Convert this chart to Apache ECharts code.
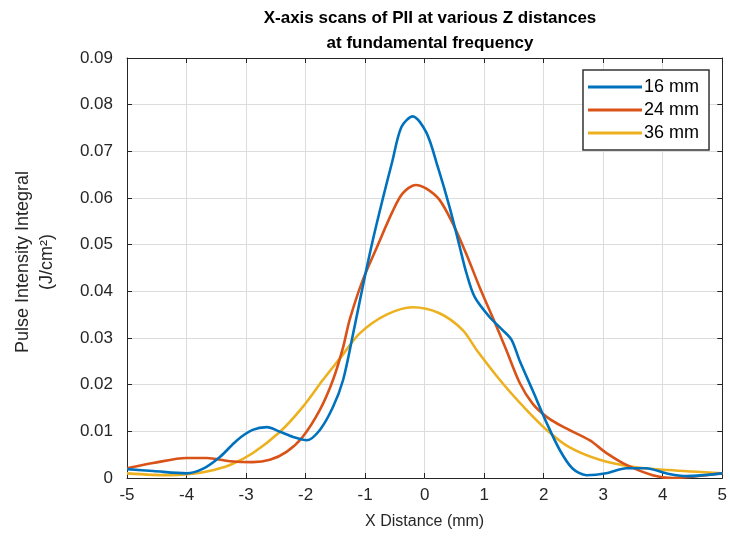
<!DOCTYPE html>
<html>
<head>
<meta charset="utf-8">
<script src="https://cdn.jsdelivr.net/npm/echarts@6/dist/echarts.min.js"></script>
<style>html,body{margin:0;padding:0;background:#fff}#c{width:730px;height:543px}</style>
</head>
<body>
<div id="c"></div>
<script>
var seriesNames = ['16 mm', '24 mm', '36 mm'];
var xTicks = [-5, -4, -3, -2, -1, 0, 1, 2, 3, 4, 5];
var yTicks = [0, 0.01, 0.02, 0.03, 0.04, 0.05, 0.06, 0.07, 0.08, 0.09];

var blueX = [-5, -4.56, -4.0, -3.72, -3.44, -3.15, -2.89, -2.65, -2.43, -2.21, -1.98, -1.76, -1.54, -1.37, -1.2, -1.04, -0.87, -0.7, -0.55, -0.39, -0.2, 0.03, 0.22, 0.42, 0.59, 0.7, 0.84, 1.09, 1.31, 1.46, 1.6, 1.81, 2.05, 2.27, 2.48, 2.72, 3.05, 3.39, 3.72, 4.06, 4.4, 5];
var blueY = [0.0019, 0.0015, 0.001, 0.002, 0.0045, 0.0081, 0.0103, 0.0109, 0.0099, 0.0088, 0.0081, 0.0103, 0.0152, 0.021, 0.031, 0.041, 0.051, 0.060, 0.0675, 0.0752, 0.0775, 0.074, 0.0667, 0.058, 0.0495, 0.044, 0.0388, 0.0345, 0.0317, 0.0296, 0.025, 0.0189, 0.0118, 0.006, 0.0021, 0.0006, 0.001, 0.0021, 0.0021, 0.001, 0.0004, 0.001];

var redX = [-5, -4.56, -4.0, -3.66, -3.27, -2.89, -2.6, -2.32, -2.05, -1.76, -1.54, -1.37, -1.26, -1.04, -0.8, -0.55, -0.37, -0.15, 0.03, 0.25, 0.47, 0.7, 0.92, 1.14, 1.37, 1.6, 1.81, 2.05, 2.32, 2.77, 3.05, 3.39, 3.83, 4.16, 5];
var redY = [0.0021, 0.0032, 0.0043, 0.0043, 0.0036, 0.0034, 0.0039, 0.0056, 0.0088, 0.0146, 0.021, 0.028, 0.0339, 0.0424, 0.0495, 0.0568, 0.061, 0.0628, 0.062, 0.0596, 0.0546, 0.048, 0.041, 0.0345, 0.0275, 0.0203, 0.016, 0.0131, 0.011, 0.0081, 0.0054, 0.0028, 0.0006, 0.0, 0.001];

var yellowX = [-5, -4.28, -4.0, -3.66, -3.27, -2.89, -2.43, -2.05, -1.71, -1.4, -1.09, -0.64, -0.2, 0.25, 0.64, 0.87, 1.31, 1.71, 2.05, 2.43, 2.94, 3.49, 4.1, 5];
var yellowY = [0.001, 0.0006, 0.0008, 0.0014, 0.0028, 0.0053, 0.0099, 0.0152, 0.021, 0.026, 0.031, 0.035, 0.0366, 0.0353, 0.0317, 0.0275, 0.0203, 0.0146, 0.0103, 0.0066, 0.0039, 0.0024, 0.0017, 0.001];

var colors = ['#0072BD', '#D95319', '#EDB120'];

function pairs(xs, ys) { return xs.map(function (x, i) { return [x, ys[i]]; }); }

var font = 'Liberation Sans, Arial, sans-serif';
var chart = echarts.init(document.getElementById('c'), null, { renderer: 'canvas' });

var axisLineStyle = { color: '#262626', width: 1 };
var option = {
  animation: false,
  backgroundColor: '#fff',
  title: {
    text: 'X-axis scans of PII at various Z distances\nat fundamental frequency',
    left: 425, top: 1, textAlign: 'center',
    textStyle: { fontFamily: font, fontSize: 17, fontWeight: 'bold', color: '#000', lineHeight: 25 }
  },
  legend: {
    data: seriesNames,
    orient: 'vertical',
    left: 583, top: 70,
    icon: 'rect',
    itemWidth: 54, itemHeight: 3, itemGap: 3,
    padding: [7, 10, 7, 5],
    borderColor: '#333', borderWidth: 1.5, backgroundColor: '#fff',
    textStyle: { fontFamily: font, fontSize: 18, color: '#000', lineHeight: 20, padding: [0, 0, 0, -3] }
  },
  grid: { left: 127, right: 7, top: 58, bottom: 65, containLabel: false },
  xAxis: [{
    type: 'value', min: -5, max: 5, interval: 1,
    name: 'X Distance (mm)', nameLocation: 'middle', nameGap: 36,
    nameTextStyle: { fontFamily: font, fontSize: 16, color: '#262626' },
    axisLine: { onZero: false, lineStyle: axisLineStyle },
    axisTick: { inside: true, length: 5, lineStyle: axisLineStyle },
    axisLabel: { fontFamily: font, fontSize: 17, color: '#262626', margin: 9,
      formatter: function (v) { return xTicks.indexOf(v) >= 0 ? String(v) : ''; } },
    splitLine: { show: true, lineStyle: { color: '#dcdcdc', width: 1 } }
  }, {
    type: 'value', min: -5, max: 5, interval: 1, position: 'top',
    axisLine: { show: true, onZero: false, lineStyle: axisLineStyle },
    axisTick: { inside: true, length: 5, lineStyle: axisLineStyle },
    axisLabel: { show: false }, splitLine: { show: false }
  }],
  yAxis: [{
    type: 'value', min: 0, max: 0.09, interval: 0.01,
    name: 'Pulse Intensity Integral\n(J/cm²)', nameLocation: 'middle', nameGap: 68, nameRotate: 90,
    nameTextStyle: { fontFamily: font, fontSize: 18, color: '#262626', lineHeight: 24, padding: [0, 0, 0, 12] },
    axisLine: { show: true, onZero: false, lineStyle: axisLineStyle },
    axisTick: { show: true, inside: true, length: 5, lineStyle: axisLineStyle },
    axisLabel: { fontFamily: font, fontSize: 17, color: '#262626', margin: 14,
      formatter: function (v) { return v === 0 ? '0' : v.toFixed(2); } },
    splitLine: { show: true, lineStyle: { color: '#dcdcdc', width: 1 } }
  }, {
    type: 'value', min: 0, max: 0.09, interval: 0.01, position: 'right',
    axisLine: { show: true, onZero: false, lineStyle: axisLineStyle },
    axisTick: { show: true, inside: true, length: 5, lineStyle: axisLineStyle },
    axisLabel: { show: false }, splitLine: { show: false }
  }],
  series: [
    { name: seriesNames[0], type: 'line', data: pairs(blueX, blueY), smooth: 0.3, symbol: 'none',
      lineStyle: { color: colors[0], width: 2.6 }, itemStyle: { color: colors[0] }, z: 5 },
    { name: seriesNames[1], type: 'line', data: pairs(redX, redY), smooth: 0.3, symbol: 'none',
      lineStyle: { color: colors[1], width: 2.6 }, itemStyle: { color: colors[1] }, z: 4 },
    { name: seriesNames[2], type: 'line', data: pairs(yellowX, yellowY), smooth: 0.3, symbol: 'none',
      lineStyle: { color: colors[2], width: 2.6 }, itemStyle: { color: colors[2] }, z: 3 }
  ]
};
chart.setOption(option);
</script>
</body>
</html>
